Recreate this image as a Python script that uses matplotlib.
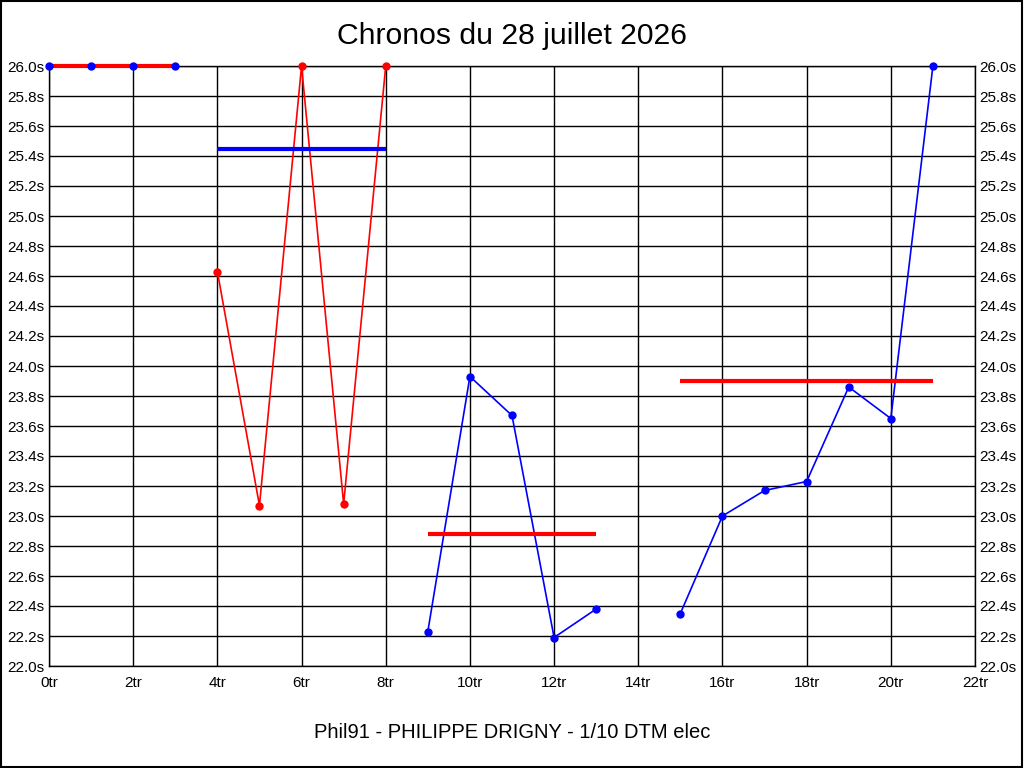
import numpy as np
import matplotlib
matplotlib.use("Agg")
import matplotlib.pyplot as plt
from matplotlib.ticker import FuncFormatter, MultipleLocator

plt.rcParams['font.family'] = ['Liberation Sans', 'DejaVu Sans']

# laps (tours) and lap times (seconds), one list per session
x1 = [0, 1, 2, 3]
y1 = [26.0, 26.0, 26.0, 26.0]
avg1 = 26.0

x2 = [4, 5, 6, 7, 8]
y2 = [24.63, 23.07, 26.0, 23.08, 26.0]
avg2 = 25.45

x3 = [9, 10, 11, 12, 13]
y3 = [22.23, 23.93, 23.67, 22.19, 22.38]
avg3 = 22.88

x4 = [15, 16, 17, 18, 19, 20, 21]
y4 = [22.35, 23.00, 23.17, 23.23, 23.86, 23.65, 26.0]
avg4 = 23.90

sessions = [
    (x1, y1, avg1, 'blue', 'red'),
    (x2, y2, avg2, 'red', 'blue'),
    (x3, y3, avg3, 'blue', 'red'),
    (x4, y4, avg4, 'blue', 'red'),
]

fig = plt.figure(figsize=(10.24, 7.68), dpi=100)
ax = fig.add_axes([49/1024, 1 - 666/768, 926/1024, 600/768])

for xs, ys, avg, col, avgcol in sessions:
    ax.plot(xs, ys, color=col, lw=1.2, zorder=3, clip_on=False)
    ax.plot([xs[0], xs[-1]], [avg, avg], color=avgcol, lw=3, zorder=4,
            solid_capstyle='butt', clip_on=False)
    ax.plot(xs, ys, ls='none', marker='o', ms=5, mfc=col, mec=col, zorder=5, clip_on=False)

ax.set_xlim(0, 22)
ax.set_ylim(22.0, 26.0)
ax.xaxis.set_major_locator(MultipleLocator(2))
ax.yaxis.set_major_locator(MultipleLocator(0.2))
ax.xaxis.set_major_formatter(FuncFormatter(lambda v, p: f"{v:.0f}tr"))
ax.yaxis.set_major_formatter(FuncFormatter(lambda v, p: f"{v:.1f}s"))
ax.grid(True, color='black', lw=1)
ax.set_axisbelow(True)
ax.tick_params(axis='both', length=0, labelsize=11, pad=3)
ax.tick_params(axis='y', right=True, labelright=True)
ax.tick_params(axis='x', pad=7)
for s in ax.spines.values():
    s.set_color('black')
    s.set_linewidth(1)
    s.set_zorder(1)

fig.text(0.5, 1 - 36/768, "Chronos du 28 juillet 2026", ha='center', va='center', fontsize=21.7)
fig.text(0.5, 1 - 733/768, "Phil91 - PHILIPPE DRIGNY - 1/10 DTM elec", ha='center', va='center', fontsize=14.5)

border = plt.Rectangle((0.0005, 0.0007), 0.998, 0.998, transform=fig.transFigure,
                       fill=False, edgecolor='black', lw=1.5)
fig.patches.append(border)

fig.savefig("out.png", dpi=100)
